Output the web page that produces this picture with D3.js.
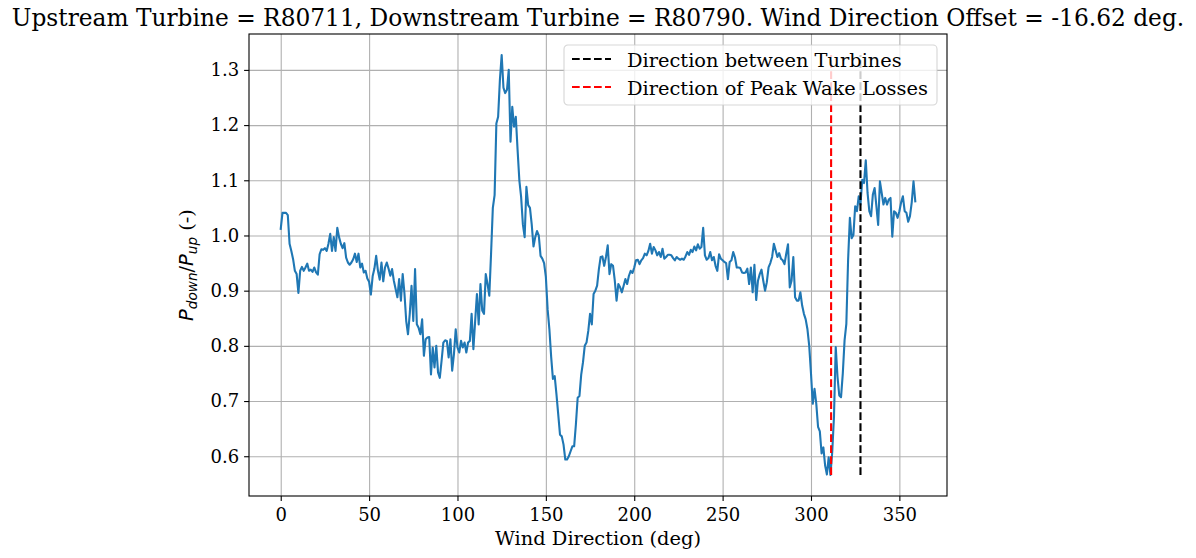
<!DOCTYPE html>
<html>
<head>
<meta charset="utf-8">
<script src="https://cdn.jsdelivr.net/npm/d3@7/dist/d3.min.js"></script>
<style>
  body { margin: 0; background: #fff; }
  svg { display: block; font-family: "DejaVu Serif", serif; }
  .tick text { font-family: "DejaVu Serif", serif; fill: #000; }
  .grid line { stroke: #b0b0b0; stroke-width: 1.1; }
  .grid path { display: none; }
</style>
</head>
<body>
<div class="chart"></div>
<script>
// wind direction bins (deg), one per degree
var windDir = d3.range(0, 360);

// P_down / P_up ratio per bin
var powerRatio = [
  1.012, 1.041, 1.041, 1.041, 1.037, 0.985, 0.972, 0.957, 0.936, 0.930,
  0.896, 0.936, 0.943, 0.936, 0.942, 0.949, 0.936, 0.938, 0.934, 0.942,
  0.933, 0.929, 0.966, 0.975, 0.974, 0.977, 0.972, 0.985, 1.003, 0.972,
  0.997, 0.972, 1.014, 0.997, 0.985, 0.977, 0.986, 0.960, 0.951, 0.947,
  0.951, 0.957, 0.967, 0.952, 0.967, 0.942, 0.949, 0.933, 0.936, 0.922,
  0.916, 0.893, 0.926, 0.940, 0.963, 0.936, 0.920, 0.951, 0.917, 0.942,
  0.951, 0.940, 0.927, 0.939, 0.918, 0.903, 0.888, 0.921, 0.882, 0.930,
  0.895, 0.845, 0.821, 0.858, 0.909, 0.845, 0.939, 0.839, 0.833, 0.821,
  0.848, 0.782, 0.812, 0.815, 0.816, 0.748, 0.797, 0.761, 0.800, 0.752,
  0.742, 0.773, 0.806, 0.810, 0.809, 0.779, 0.812, 0.755, 0.785, 0.830,
  0.797, 0.788, 0.809, 0.797, 0.806, 0.788, 0.806, 0.809, 0.858, 0.794,
  0.845, 0.894, 0.839, 0.912, 0.864, 0.858, 0.930, 0.912, 0.891, 0.967,
  1.050, 1.073, 1.203, 1.215, 1.282, 1.327, 1.268, 1.258, 1.264, 1.300,
  1.170, 1.233, 1.197, 1.215, 1.155, 1.100, 1.070, 1.020, 0.997, 1.088,
  1.055, 1.050, 1.020, 0.980, 0.997, 1.008, 1.000, 0.963, 0.958, 0.950,
  0.925, 0.866, 0.830, 0.780, 0.740, 0.745, 0.712, 0.676, 0.639, 0.636,
  0.621, 0.594, 0.594, 0.600, 0.609, 0.618, 0.618, 0.658, 0.706, 0.709,
  0.748, 0.770, 0.800, 0.806, 0.827, 0.858, 0.839, 0.894, 0.900, 0.909,
  0.939, 0.961, 0.962, 0.945, 0.961, 0.982, 0.930, 0.948, 0.945, 0.918,
  0.882, 0.912, 0.906, 0.897, 0.909, 0.921, 0.912, 0.927, 0.936, 0.932,
  0.942, 0.955, 0.956, 0.948, 0.955, 0.959, 0.967, 0.964, 0.972, 0.985,
  0.967, 0.979, 0.973, 0.964, 0.970, 0.961, 0.976, 0.958, 0.961, 0.965,
  0.965, 0.964, 0.959, 0.955, 0.961, 0.958, 0.956, 0.958, 0.956, 0.962,
  0.970, 0.965, 0.974, 0.970, 0.980, 0.973, 0.984, 0.976, 0.979, 1.014,
  0.964, 0.956, 0.959, 0.970, 0.955, 0.961, 0.945, 0.936, 0.966, 0.958,
  0.955, 0.952, 0.950, 0.921, 0.952, 0.955, 0.970, 0.960, 0.942, 0.942,
  0.941, 0.933, 0.932, 0.933, 0.940, 0.912, 0.942, 0.897, 0.947, 0.883,
  0.918, 0.930, 0.938, 0.918, 0.900, 0.915, 0.942, 0.950, 0.961, 0.985,
  0.973, 0.961, 0.968, 0.958, 0.955, 0.948, 0.967, 0.984, 0.906, 0.918,
  0.961, 0.888, 0.882, 0.882, 0.897, 0.873, 0.858, 0.848, 0.830, 0.800,
  0.750, 0.695, 0.722, 0.695, 0.653, 0.645, 0.605, 0.616, 0.583, 0.567,
  0.598, 0.566, 0.607, 0.671, 0.798, 0.744, 0.710, 0.707, 0.750, 0.810,
  0.840, 0.956, 1.032, 0.995, 1.001, 1.053, 1.044, 1.071, 1.056, 1.101,
  1.095, 1.136, 1.077, 1.044, 1.035, 1.074, 1.086, 1.053, 1.019, 1.098,
  1.077, 1.056, 1.068, 1.056, 1.065, 1.068, 0.998, 1.044, 1.041, 1.032,
  1.044, 1.060, 1.071, 1.044, 1.041, 1.025, 1.035, 1.060, 1.098, 1.062
];

var dirBetween = 328.0;      // direction between turbines
var dirOffset = -16.62;
var dirPeakWake = dirBetween + dirOffset;

var xTicks = [0, 50, 100, 150, 200, 250, 300, 350];
var yTicks = [0.6, 0.7, 0.8, 0.9, 1.0, 1.1, 1.2, 1.3];

var legendLabels = ["Direction between Turbines", "Direction of Peak Wake Losses"];
var legendColors = ["#000000", "#ff0000"];

var titleText = "Upstream Turbine = R80711, Downstream Turbine = R80790. Wind Direction Offset = " + dirOffset + " deg.";

var W = 1196, H = 558;
var margin = {top: 34, right: 249, bottom: 62, left: 249};
var width = 947 - margin.left,
    height = H - margin.top - margin.bottom;

var data = windDir.map(function(d, i) { return {dir: d, ratio: powerRatio[i]}; });

var svg = d3.select(".chart").append("svg")
    .attr("width", W)
    .attr("height", H);

var g = svg.append("g")
    .attr("transform", "translate(" + margin.left + "," + margin.top + ")");

// matplotlib style 5% margins
var xMin = d3.min(windDir), xMax = d3.max(windDir);
var yMin = d3.min(powerRatio), yMax = d3.max(powerRatio);
var xPad = (xMax - xMin) * 0.05, yPad = (yMax - yMin) * 0.05;

var x = d3.scaleLinear()
    .domain([xMin - xPad, xMax + xPad])
    .range([0, width]);

var y = d3.scaleLinear()
    .domain([yMin - yPad, yMax + yPad])
    .range([height, 0]);

// grid
g.append("g")
    .attr("class", "grid")
    .attr("transform", "translate(0," + height + ")")
    .call(d3.axisBottom(x).tickValues(xTicks).tickSize(-height).tickFormat(""));
g.append("g")
    .attr("class", "grid")
    .call(d3.axisLeft(y).tickValues(yTicks).tickSize(-width).tickFormat(""));

// the series
var line = d3.line()
    .x(function(d) { return x(d.dir); })
    .y(function(d) { return y(d.ratio); });

g.append("path")
    .datum(data)
    .attr("fill", "none")
    .attr("stroke", "#1f77b4")
    .attr("stroke-width", 2.1)
    .attr("stroke-linejoin", "round")
    .attr("stroke-linecap", "square")
    .attr("d", line);

// vertical markers
var vlines = [dirBetween, dirPeakWake];
g.selectAll(".vline")
    .data(vlines)
  .enter().append("line")
    .attr("class", "vline")
    .attr("x1", function(d) { return x(d); })
    .attr("x2", function(d) { return x(d); })
    .attr("y1", y(yMin))
    .attr("y2", y(yMax))
    .attr("stroke", function(d, i) { return legendColors[i]; })
    .attr("stroke-width", 2.1)
    .attr("stroke-dasharray", "7.7,3.3");

// spines
g.append("rect")
    .attr("width", width)
    .attr("height", height)
    .attr("fill", "none")
    .attr("stroke", "#000")
    .attr("stroke-width", 1.1);

// axes
var xAxis = g.append("g")
    .attr("transform", "translate(0," + height + ")")
    .call(d3.axisBottom(x).tickValues(xTicks).tickSize(4.9).tickPadding(7).tickFormat(d3.format("d")));
var yAxis = g.append("g")
    .call(d3.axisLeft(y).tickValues(yTicks).tickSize(4.9).tickPadding(4.9).tickFormat(d3.format(".1f")));

[xAxis, yAxis].forEach(function(a) {
  a.select(".domain").remove();
  a.selectAll(".tick line").attr("stroke", "#000").attr("stroke-width", 1.1);
  a.selectAll(".tick text").style("font-size", "18px");
});

// axis labels
svg.append("text")
    .attr("x", margin.left + width / 2)
    .attr("y", 544.5)
    .attr("text-anchor", "middle")
    .style("font-size", "19.4px")
    .text("Wind Direction (deg)");

var ylab = svg.append("text")
    .attr("transform", "translate(193," + (margin.top + height / 2) + ") rotate(-90)")
    .attr("text-anchor", "middle")
    .style("font-size", "19.4px");
ylab.append("tspan").style("font-family", "DejaVu Sans").style("font-style", "italic").text("P");
ylab.append("tspan").style("font-family", "DejaVu Sans").style("font-style", "italic")
    .style("font-size", "13.6px").attr("dy", 4).text("down");
ylab.append("tspan").style("font-family", "DejaVu Sans").attr("dy", -4).text("/");
ylab.append("tspan").style("font-family", "DejaVu Sans").style("font-style", "italic").text("P");
ylab.append("tspan").style("font-family", "DejaVu Sans").style("font-style", "italic")
    .style("font-size", "13.6px").attr("dy", 4).text("up");
ylab.append("tspan").attr("dy", -4).text(" (-)");

// title
svg.append("text")
    .attr("x", margin.left + width / 2)
    .attr("y", 26)
    .attr("text-anchor", "middle")
    .style("font-size", "23.3px")
    .text(titleText);

// legend
var legend = svg.append("g")
    .attr("transform", "translate(564,45)");

legend.append("rect")
    .attr("width", 373)
    .attr("height", 60)
    .attr("rx", 4)
    .attr("fill", "#fff")
    .attr("fill-opacity", 0.8)
    .attr("stroke", "#cccccc")
    .attr("stroke-opacity", 0.8)
    .attr("stroke-width", 1.1);

var items = legend.selectAll(".item")
    .data(legendLabels)
  .enter().append("g")
    .attr("class", "item")
    .attr("transform", function(d, i) { return "translate(0," + (14 + i * 28) + ")"; });

items.append("line")
    .attr("x1", 8)
    .attr("x2", 47)
    .attr("stroke", function(d, i) { return legendColors[i]; })
    .attr("stroke-width", 2.1)
    .attr("stroke-dasharray", "7.7,3.3");

items.append("text")
    .attr("x", 63)
    .attr("y", 8)
    .style("font-size", "19.4px")
    .text(function(d) { return d; });
</script>
</body>
</html>
